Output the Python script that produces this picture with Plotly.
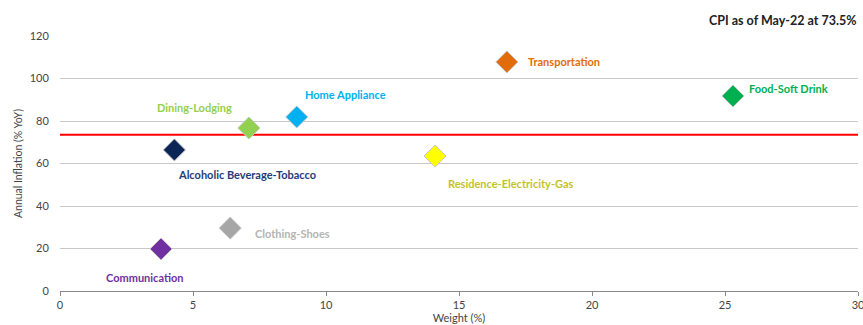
import plotly.graph_objects as go

categories = ["Communication", "Alcoholic Beverage-Tobacco", "Clothing-Shoes", "Dining-Lodging",
              "Home Appliance", "Residence-Electricity-Gas", "Transportation", "Food-Soft Drink"]
weights = [3.8, 4.3, 6.4, 7.1, 8.9, 14.1, 16.8, 25.3]
inflation = [19.8, 66.4, 29.6, 76.7, 81.9, 63.5, 107.8, 91.8]
cpi = 73.5

marker_colors = ["#7030a0", "#0c2557", "#a6a6a6", "#92d050", "#00b0f0", "#ffff00", "#e36c0a", "#00b050"]
label_colors = ["#7030a0", "#1f3c78", "#b4b4b4", "#92d050", "#00b0f0", "#c3c329", "#e36c0a", "#00b050"]
# label offsets (pixels) relative to marker
label_pos = [(-16, -29, "center"), (2, -25, "left"), (23, -5, "left"), (-15, 21, "right"),
             (6, 22, "left"), (11, -27, "left"), (19, 0, "left"), (14, 7, "left")]

FONT = "Lato"
fig = go.Figure()
fig.add_trace(go.Scatter(
    x=weights, y=inflation, mode="markers",
    marker=dict(symbol="diamond", size=17, color=marker_colors,
                line=dict(color="#c8c8c8", width=1)),
    showlegend=False, hoverinfo="text", text=categories))

fig.add_shape(type="line", xref="paper", x0=0, x1=1, yref="y", y0=cpi, y1=cpi,
              line=dict(color="#ff0000", width=2), layer="below")

for c, x, y, col, (dx, dy, anc) in zip(categories, weights, inflation, label_colors, label_pos):
    fig.add_annotation(x=x, y=y, text="<b>" + c + "</b>", showarrow=False,
                       xshift=dx, yshift=dy, xanchor=anc, yanchor="middle",
                       font=dict(family=FONT, size=11, color=col))

fig.add_annotation(xref="paper", yref="paper", x=1, y=1, xanchor="right", yanchor="bottom",
                   yshift=6, text="<b>CPI as of May-22 at 73.5%</b>", showarrow=False,
                   font=dict(family=FONT, size=12.5, color="#222"))

fig.update_layout(
    width=863, height=325, margin=dict(l=60, r=5, t=36, b=34, autoexpand=False),
    paper_bgcolor="white", plot_bgcolor="white",
    font=dict(family=FONT, size=11, color="#444"),
    xaxis=dict(range=[0, 30], tickvals=[0, 5, 10, 15, 20, 25, 30], showgrid=False,
               showline=True, linecolor="#888", linewidth=1, ticks="outside", ticklen=4,
               tickcolor="#888", zeroline=False, ticklabeloverflow="allow", automargin=False,
               title=dict(text="Weight (%)", font=dict(size=11, family=FONT, color="#444"), standoff=3)),
    yaxis=dict(range=[0, 120], tickvals=[0, 20, 40, 60, 80, 100, 120], showgrid=True,
               gridcolor="#c8c8c8", gridwidth=1, zeroline=False, showline=False, automargin=False,
               ticks="outside", ticklen=8, tickcolor="white",
               title=dict(text="Annual Inflation (% YoY)", font=dict(size=10.5, family=FONT, color="#444"), standoff=4)),
)
fig.write_html("out.html")
